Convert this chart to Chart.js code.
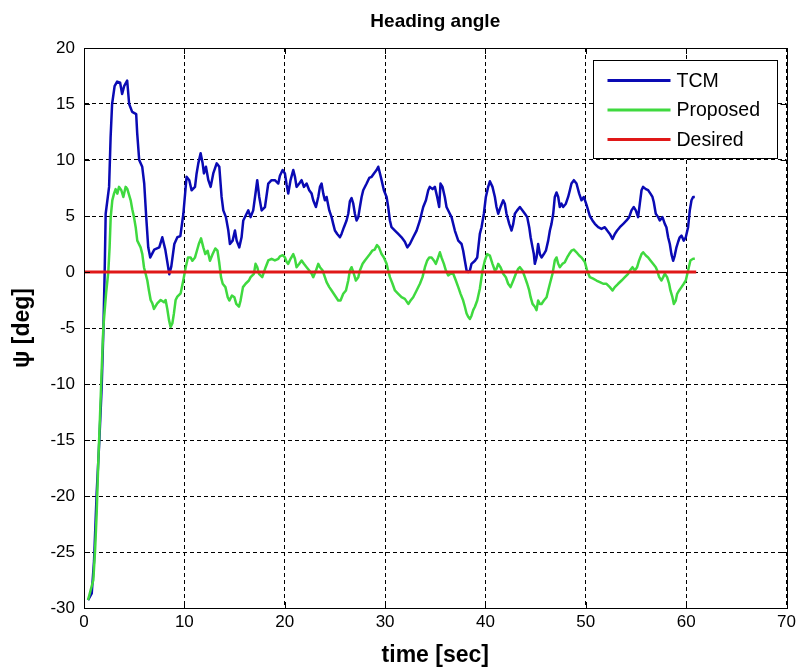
<!DOCTYPE html>
<html>
<head>
<meta charset="utf-8">
<title>Heading angle</title>
<script src="https://cdn.jsdelivr.net/npm/chart.js@4/dist/chart.umd.min.js"></script>
<style>
  html, body { margin: 0; padding: 0; background: #fff; }
  canvas { display: block; }
</style>
</head>
<body>
<canvas id="chart" width="800" height="672"></canvas>
<script>
// Heading angle response of the TCM controller (seconds, degrees)
const tcmTime = [
  0.4, 0.77, 1.0, 1.26, 1.53, 1.76, 1.93, 2.06, 2.16, 2.5, 2.65, 2.8, 3.05, 3.3, 3.6, 3.8, 4.0, 4.3, 4.5, 4.8,
  5.2, 5.3, 5.5, 5.8, 6.0, 6.2, 6.4, 6.6, 7.0, 7.5, 7.8, 8.1, 8.5, 8.7, 9.0, 9.3, 9.6, 9.9, 10.22, 10.49,
  10.72, 11.06, 11.22, 11.39, 11.62, 11.82, 11.95, 12.15, 12.39, 12.62, 12.88, 13.22, 13.48, 13.71, 13.88, 14.14, 14.38, 14.54, 14.81, 15.04,
  15.21, 15.47, 15.7, 15.87, 16.2, 16.37, 16.6, 16.86, 17.13, 17.26, 17.46, 17.7, 18.03, 18.36, 18.69, 19.02, 19.36, 19.52, 19.79, 20.02,
  20.19, 20.35, 20.58, 20.85, 21.02, 21.18, 21.45, 21.68, 21.91, 22.18, 22.44, 22.68, 22.84, 23.11, 23.34, 23.51, 23.67, 23.84, 24.0, 24.17,
  24.44, 24.67, 24.83, 25.0, 25.23, 25.5, 25.66, 25.9, 26.16, 26.33, 26.49, 26.66, 26.83, 26.99, 27.16, 27.33, 27.49, 27.66, 27.82, 28.16,
  28.42, 28.66, 28.89, 29.15, 29.32, 29.49, 29.65, 29.88, 30.15, 30.31, 30.48, 30.64, 30.98, 31.31, 31.64, 31.97, 32.21, 32.47, 32.8, 33.14,
  33.47, 33.63, 33.8, 34.07, 34.3, 34.46, 34.73, 34.96, 35.19, 35.39, 35.52, 35.72, 35.95, 36.12, 36.45, 36.62, 36.95, 37.29, 37.62, 37.78,
  37.95, 38.12, 38.28, 38.45, 38.61, 38.95, 39.18, 39.44, 39.61, 39.84, 40.04, 40.27, 40.44, 40.7, 40.94, 41.1, 41.27, 41.5, 41.77, 41.93,
  42.1, 42.37, 42.6, 42.77, 42.93, 43.16, 43.43, 43.69, 43.93, 44.16, 44.36, 44.5, 44.69, 44.82, 44.92, 45.09, 45.25, 45.42, 45.59, 45.82,
  46.02, 46.25, 46.42, 46.58, 46.75, 46.91, 47.08, 47.25, 47.41, 47.58, 47.74, 48.01, 48.24, 48.41, 48.57, 48.81, 49.07, 49.34, 49.57, 49.8,
  50.07, 50.4, 50.66, 50.9, 51.23, 51.56, 51.89, 52.13, 52.39, 52.66, 52.89, 53.12, 53.39, 53.73, 54.06, 54.32, 54.55, 54.78, 54.98, 55.21,
  55.38, 55.55, 55.71, 55.98, 56.21, 56.44, 56.64, 56.77, 56.97, 57.21, 57.37, 57.64, 57.87, 58.03, 58.2, 58.37, 58.53, 58.7, 58.86, 59.03,
  59.2, 59.36, 59.53, 59.76, 59.96, 60.19, 60.36, 60.53, 60.69, 60.86
];
const tcmAngle = [
  -29.3, -28.7, -25.8, -19.8, -15.0, -10.3, -5.2, 0.0, 5.2, 7.6, 12.0, 15.0, 16.6, 17.0, 16.9, 15.9, 16.6, 17.1, 15.0, 14.3,
  14.1, 12.4, 10.0, 9.4, 7.9, 4.9, 2.2, 1.3, 2.0, 2.2, 3.1, 2.0, -0.2, 0.5, 2.5, 3.1, 3.2, 5.2, 8.5, 8.2,
  7.3, 7.6, 8.8, 9.7, 10.6, 9.7, 8.8, 9.4, 8.2, 7.6, 8.8, 9.7, 9.4, 6.7, 5.5, 4.9, 3.7, 2.5, 2.8, 3.7,
  2.8, 2.2, 3.1, 4.6, 5.2, 5.5, 4.9, 5.5, 7.3, 8.2, 6.7, 5.5, 5.8, 7.9, 8.2, 8.2, 7.9, 8.6, 9.1, 8.8,
  7.8, 7.0, 8.2, 9.1, 8.5, 7.6, 7.9, 8.2, 7.6, 7.9, 7.3, 7.0, 6.4, 5.8, 6.7, 7.6, 7.9, 7.0, 6.4, 6.7,
  5.5, 4.9, 4.3, 3.7, 3.4, 3.1, 3.4, 4.0, 4.6, 5.2, 6.3, 6.6, 6.1, 5.2, 4.6, 4.9, 5.8, 6.7, 7.3, 7.9,
  8.4, 8.5, 8.8, 9.1, 9.4, 8.8, 8.2, 7.3, 6.7, 5.8, 4.6, 4.0, 3.7, 3.4, 3.1, 2.7, 2.2, 2.5, 3.1, 3.7,
  4.6, 5.2, 5.8, 6.4, 7.3, 7.6, 7.4, 7.6, 6.7, 5.8, 7.9, 7.6, 6.7, 5.8, 5.2, 4.9, 3.7, 2.8, 2.5, 1.9,
  1.0, 0.13, 0.0, 0.13, 0.73, 1.0, 1.3, 3.4, 4.0, 5.2, 6.7, 7.6, 8.1, 7.6, 6.7, 5.8, 5.2, 5.8, 6.4, 6.1,
  5.2, 4.3, 3.7, 4.3, 5.2, 5.5, 5.8, 5.5, 5.2, 4.9, 4.0, 3.1, 2.2, 1.6, 0.73, 1.3, 2.5, 1.6, 1.3, 1.6,
  1.9, 2.8, 3.7, 4.3, 5.2, 6.7, 7.1, 6.7, 5.8, 6.1, 5.8, 6.1, 6.7, 7.3, 7.9, 8.2, 7.9, 7.0, 6.4, 6.7,
  6.0, 5.0, 4.6, 4.3, 4.0, 3.85, 4.0, 3.7, 3.4, 2.96, 3.4, 3.7, 4.0, 4.3, 4.6, 4.9, 5.5, 5.8, 5.5, 4.9,
  6.1, 7.3, 7.6, 7.4, 7.3, 7.0, 6.7, 6.25, 5.2, 4.9, 4.6, 4.9, 4.3, 4.0, 3.1, 2.5, 1.6, 1.0, 1.47, 2.2,
  2.7, 3.1, 3.25, 2.8, 3.1, 4.0, 5.5, 6.4, 6.7, 6.7
];

// Heading angle response of the proposed controller (seconds, degrees)
const proposedTime = [
  0.4, 0.93, 1.1, 1.26, 1.43, 1.59, 1.76, 1.93, 2.2, 2.42, 2.55, 2.66, 2.82, 2.99, 3.15, 3.32, 3.49, 3.72, 3.92, 4.15,
  4.32, 4.65, 4.81, 4.98, 5.15, 5.31, 5.64, 5.81, 5.98, 6.14, 6.31, 6.47, 6.64, 6.81, 6.97, 7.3, 7.64, 7.97, 8.13, 8.3,
  8.47, 8.63, 8.8, 8.96, 9.13, 9.3, 9.63, 9.89, 10.13, 10.36, 10.62, 10.8, 11.06, 11.25, 11.44, 11.66, 11.89, 12.09, 12.32, 12.55,
  12.82, 13.08, 13.3, 13.48, 13.65, 13.82, 14.09, 14.32, 14.48, 14.74, 14.98, 15.17, 15.44, 15.6, 15.84, 16.1, 16.43, 16.6, 16.93, 17.09,
  17.26, 17.43, 17.76, 18.1, 18.36, 18.69, 19.02, 19.36, 19.52, 19.79, 20.02, 20.19, 20.35, 20.58, 20.85, 21.02, 21.18, 21.45, 21.68, 21.91,
  22.18, 22.44, 22.68, 22.84, 23.11, 23.34, 23.51, 23.78, 24.0, 24.17, 24.44, 24.67, 25.0, 25.33, 25.56, 25.83, 26.1, 26.33, 26.49, 26.66,
  26.83, 27.09, 27.33, 27.49, 27.76, 27.99, 28.22, 28.49, 28.72, 28.96, 29.19, 29.39, 29.65, 29.88, 30.15, 30.31, 30.48, 30.74, 30.98, 31.31,
  31.64, 31.97, 32.31, 32.54, 32.8, 33.14, 33.47, 33.73, 33.97, 34.2, 34.4, 34.63, 34.86, 35.06, 35.29, 35.46, 35.62, 35.86, 36.06, 36.29,
  36.52, 36.79, 37.05, 37.29, 37.52, 37.78, 37.95, 38.12, 38.28, 38.45, 38.61, 38.78, 38.95, 39.18, 39.44, 39.71, 39.94, 40.17, 40.44, 40.7,
  40.94, 41.1, 41.27, 41.5, 41.77, 42.03, 42.26, 42.5, 42.77, 43.03, 43.26, 43.43, 43.69, 43.93, 44.16, 44.36, 44.5, 44.69, 44.92, 45.09,
  45.25, 45.42, 45.59, 45.82, 46.09, 46.25, 46.42, 46.68, 46.91, 47.08, 47.25, 47.41, 47.68, 47.91, 48.14, 48.34, 48.57, 48.81, 49.07, 49.34,
  49.57, 49.9, 50.13, 50.4, 50.73, 51.06, 51.4, 51.73, 52.06, 52.39, 52.66, 52.89, 53.22, 53.56, 53.89, 54.22, 54.39, 54.65, 54.88, 55.11,
  55.31, 55.55, 55.71, 55.98, 56.21, 56.44, 56.7, 56.97, 57.11, 57.31, 57.54, 57.71, 57.87, 58.1, 58.3, 58.43, 58.63, 58.77, 58.96, 59.1,
  59.3, 59.53, 59.76, 59.96, 60.19, 60.42, 60.69, 60.86
];
const proposedAngle = [
  -29.3, -27.5, -24.9, -21.6, -16.8, -13.0, -8.8, -4.9, -1.9, 0.0, 2.2, 4.9, 6.4, 7.0, 7.4, 7.0, 7.6, 7.3, 6.7, 7.6,
  7.4, 6.4, 5.6, 4.9, 4.0, 2.8, 2.2, 1.6, 0.4, -0.16, -0.76, -1.65, -2.5, -2.8, -3.3, -2.8, -2.5, -2.7, -2.5, -3.3,
  -4.3, -4.9, -4.6, -3.7, -2.5, -2.2, -1.9, -0.76, 0.4, 1.3, 1.3, 1.0, 1.3, 1.9, 2.5, 3.0, 2.2, 1.6, 1.9, 1.0,
  1.6, 2.1, 1.9, 0.8, -0.46, -1.05, -1.35, -2.25, -2.55, -2.1, -2.25, -2.85, -3.1, -2.55, -1.35, -1.05, -0.76, -0.46, -0.16, 0.73,
  0.43, -0.16, -0.46, 0.43, 1.03, 1.18, 1.03, 1.18, 1.4, 1.5, 1.3, 0.9, 0.73, 1.18, 1.6, 1.18, 0.43, 0.73, 1.03, 0.73,
  0.43, 0.13, -0.16, -0.46, 0.13, 0.73, 0.43, 0.13, -0.46, -0.9, -1.35, -1.65, -2.1, -2.55, -2.55, -1.95, -1.65, -0.76, 0.13, 0.43,
  0.0, -0.76, -0.46, 0.13, 0.73, 1.03, 1.3, 1.6, 1.9, 2.0, 2.4, 2.2, 1.6, 1.3, 0.73, 0.13, -0.46, -1.05, -1.65, -1.95,
  -2.25, -2.4, -2.85, -2.55, -2.25, -1.65, -1.05, -0.46, 0.43, 1.03, 1.3, 1.3, 1.03, 0.73, 1.3, 1.76, 1.3, 0.73, 0.13, -0.3,
  -0.16, -0.16, -0.76, -1.35, -1.95, -2.55, -3.1, -3.7, -4.0, -4.2, -3.9, -3.4, -3.1, -2.55, -1.5, 0.13, 1.03, 1.6, 1.47, 0.73,
  0.13, 0.28, 0.73, 0.43, -0.16, -0.46, -1.05, -1.35, -0.76, -0.16, 0.28, 0.43, 0.13, -0.46, -1.05, -1.65, -2.25, -2.85, -3.1, -3.4,
  -2.55, -2.85, -2.85, -2.55, -2.25, -1.65, -1.05, -0.16, 1.03, 1.3, 0.73, 0.43, 0.73, 0.88, 1.3, 1.6, 1.9, 2.0, 1.76, 1.47,
  1.3, 0.9, 0.13, -0.46, -0.6, -0.76, -0.9, -1.05, -1.05, -1.35, -1.65, -1.35, -1.05, -0.76, -0.46, -0.16, 0.13, 0.43, 0.13, 0.43,
  1.03, 1.6, 1.76, 1.47, 1.3, 1.03, 0.73, 0.43, 0.13, -0.46, -0.76, -0.46, -0.16, -0.46, -1.05, -1.65, -2.25, -2.85, -2.55, -1.95,
  -1.65, -1.35, -1.05, -0.76, 0.13, 1.03, 1.18, 1.18
];

// Reference heading
const desiredTime = [0, 61];
const desiredAngle = [0, 0];

// Axis ticks
const timeTicks = [0, 10, 20, 30, 40, 50, 60, 70];
const angleTicks = [-30, -25, -20, -15, -10, -5, 0, 5, 10, 15, 20];

const seriesNames = ['TCM', 'Proposed', 'Desired'];
const seriesColors = ['#0a0ab4', '#3fd93f', '#e01818'];
const chartTitle = 'Heading angle';

const FONT = "'Liberation Sans', Arial, Helvetica, sans-serif";

const toPoints = (xs, ys) => xs.map((x, i) => ({ x, y: ys[i] }));

// Title centred over the plot area rather than the whole canvas
const plotTitlePlugin = {
  id: 'plotTitle',
  afterDraw(chart) {
    const { ctx, chartArea: a } = chart;
    ctx.save();
    ctx.font = "bold 19px " + FONT;
    ctx.fillStyle = '#000';
    ctx.textAlign = 'center';
    ctx.textBaseline = 'middle';
    ctx.fillText(chartTitle, (a.left + a.right) / 2, 22);
    ctx.restore();
  }
};

// Solid frame with inward tick marks on all four sides
const framePlugin = {
  id: 'frame',
  afterDatasetsDraw(chart) {
    const { ctx, chartArea: a, scales } = chart;
    const len = 6;
    ctx.save();
    ctx.strokeStyle = '#000';
    ctx.lineWidth = 1;
    ctx.setLineDash([]);
    ctx.strokeRect(Math.round(a.left) + 0.5, Math.round(a.top) + 0.5,
                   Math.round(a.right - a.left), Math.round(a.bottom - a.top));
    ctx.beginPath();
    scales.x.ticks.forEach(t => {
      const px = Math.round(scales.x.getPixelForValue(t.value)) + 0.5;
      ctx.moveTo(px, a.bottom); ctx.lineTo(px, a.bottom - len);
      ctx.moveTo(px, a.top); ctx.lineTo(px, a.top + len);
    });
    scales.y.ticks.forEach(t => {
      const py = Math.round(scales.y.getPixelForValue(t.value)) + 0.5;
      ctx.moveTo(a.left, py); ctx.lineTo(a.left + len, py);
      ctx.moveTo(a.right, py); ctx.lineTo(a.right - len, py);
    });
    ctx.stroke();
    ctx.restore();
  }
};

// Boxed legend in the upper right corner of the plot
const boxLegendPlugin = {
  id: 'boxLegend',
  afterDraw(chart) {
    const { ctx, chartArea: a } = chart;
    const w = 184, h = 98;
    const x0 = Math.round(a.right - 10 - w) + 0.5;
    const y0 = Math.round(a.top + 12) + 0.5;
    ctx.save();
    ctx.fillStyle = '#fff';
    ctx.fillRect(x0, y0, w, h);
    ctx.strokeStyle = '#000';
    ctx.lineWidth = 1;
    ctx.strokeRect(x0, y0, w, h);
    ctx.font = "19.5px " + FONT;
    ctx.textBaseline = 'middle';
    ctx.textAlign = 'left';
    chart.data.datasets.forEach((ds, i) => {
      const cy = y0 + 20 + i * 29.5;
      ctx.strokeStyle = ds.borderColor;
      ctx.lineWidth = 3;
      ctx.beginPath();
      ctx.moveTo(x0 + 14, cy);
      ctx.lineTo(x0 + 77, cy);
      ctx.stroke();
      ctx.fillStyle = '#000';
      ctx.fillText(ds.label, x0 + 83, cy + 1);
    });
    ctx.restore();
  }
};

new Chart(document.getElementById('chart'), {
  type: 'line',
  data: {
    datasets: [
      { label: seriesNames[0], data: toPoints(tcmTime, tcmAngle), borderColor: seriesColors[0], order: 2 },
      { label: seriesNames[1], data: toPoints(proposedTime, proposedAngle), borderColor: seriesColors[1], order: 1 },
      { label: seriesNames[2], data: toPoints(desiredTime, desiredAngle), borderColor: seriesColors[2], order: 0, borderWidth: 3 }
    ]
  },
  options: {
    responsive: false,
    animation: false,
    events: [],
    layout: { padding: { left: 0, right: 13, top: 48, bottom: 0 } },
    datasets: {
      line: { borderWidth: 2.5, pointRadius: 0, tension: 0, fill: false, borderJoinStyle: 'round' }
    },
    plugins: {
      legend: { display: false },
      tooltip: { enabled: false },
      title: { display: false }
    },
    scales: {
      x: {
        type: 'linear',
        min: 0, max: 70,
        afterBuildTicks: s => { s.ticks = timeTicks.map(v => ({ value: v })); },
        afterFit: s => { s.height = 64; },
        grid: { color: '#000', lineWidth: 1, drawTicks: false },
        border: { display: true, color: '#000', width: 1, dash: [4, 3] },
        ticks: { color: '#000', font: { family: FONT, size: 17 }, padding: 4, maxRotation: 0 },
        title: {
          display: true, text: 'time [sec]', color: '#000',
          font: { family: FONT, size: 23, weight: 'bold', lineHeight: 1.2 },
          padding: { top: 0, bottom: 3 }
        }
      },
      y: {
        type: 'linear',
        min: -30, max: 20,
        afterBuildTicks: s => { s.ticks = angleTicks.map(v => ({ value: v })); },
        afterFit: s => { s.width = 84; },
        grid: { color: '#000', lineWidth: 1, drawTicks: false },
        border: { display: true, color: '#000', width: 1, dash: [4, 3] },
        ticks: { color: '#000', font: { family: FONT, size: 17 }, padding: 9 },
        title: {
          display: true, text: 'ψ [deg]', color: '#000',
          font: { family: FONT, size: 23, weight: 'bold', lineHeight: 1.2 },
          padding: { top: 9, bottom: 0 }
        }
      }
    }
  },
  plugins: [framePlugin, boxLegendPlugin, plotTitlePlugin]
});
</script>
</body>
</html>
